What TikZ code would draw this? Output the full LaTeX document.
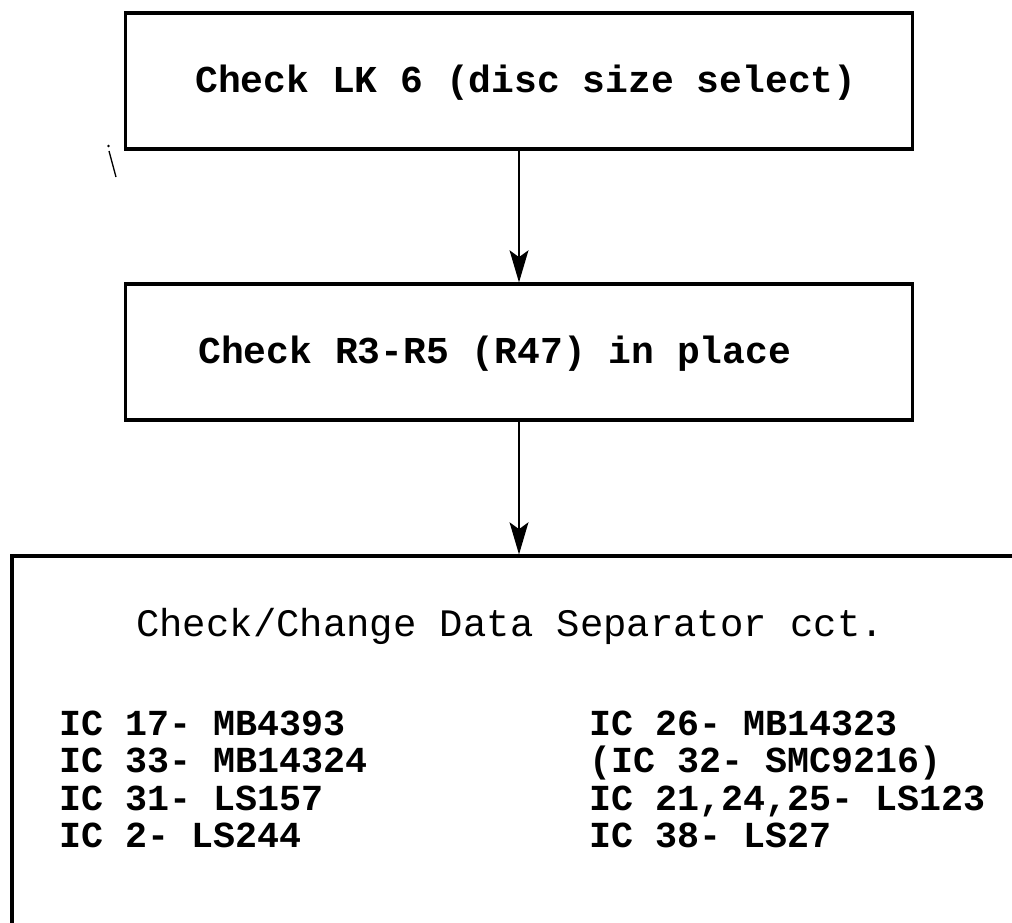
\documentclass[tikz,border=0pt]{standalone}
\usepackage{fontspec}
\setmonofont{Liberation Mono}
\usetikzlibrary{arrows.meta}
\begin{document}
\begin{tikzpicture}[x=0.75pt,y=-0.75pt,
  flowbox/.style={draw,line width=2.3pt,minimum width=590pt,minimum height=102pt,inner sep=0pt},
  flowtext/.style={anchor=base west,inner sep=0pt,font=\ttfamily\bfseries\fontsize{28.5}{34}\selectfont},
  headtext/.style={anchor=base west,inner sep=0pt,font=\ttfamily\fontsize{29.2}{34}\selectfont},
  partline/.style={anchor=base west,inner sep=0pt,font=\ttfamily\bfseries\fontsize{27.5}{34}\selectfont},
  flowarrow/.style={line width=2.2pt,-{Stealth[length=24pt,width=14pt,inset=5pt]}}]
\useasboundingbox (0,0) rectangle (1012,922);
\clip (0,0) rectangle (1012,922);
% boxes
\node[flowbox] (lk6) at (519,81) {};
\node[flowbox] (resist) at (519,352) {};
\node[flowbox,minimum width=763.5pt,minimum height=288pt] (datasep) at (521,748) {};
% box texts
\node[flowtext] (lk6txt) at (195,92) {Check LK 6 (disc size select)};
\node[flowtext] (resisttxt) at (198,363) {Check R3-R5 (R47) in place};
\node[headtext] (septxt) at (136,636) {Check/Change Data Separator cct.};
\node[partline] (ic17) at (59,735) {IC 17- MB4393};
\node[partline] (ic33) at (59,772) {IC 33- MB14324};
\node[partline] (ic31) at (59,810) {IC 31- LS157};
\node[partline] (ic2) at (59,847) {IC 2- LS244};
\node[partline] (ic26) at (589,735) {IC 26- MB14323};
\node[partline] (ic32) at (589,772) {(IC 32- SMC9216)};
\node[partline] (ic21) at (589,810) {IC 21,24,25- LS123};
\node[partline] (ic38) at (589,847) {IC 38- LS27};
% arrows
\draw[flowarrow] (lk6.south) -- (resist.north);
\draw[flowarrow] (resist.south) -- (resist.south |- datasep.north);
% stray pen mark
\fill (108.5,146) circle (1pt);
\draw[line width=1pt] (109,151) -- (116,177);
\end{tikzpicture}
\end{document}
